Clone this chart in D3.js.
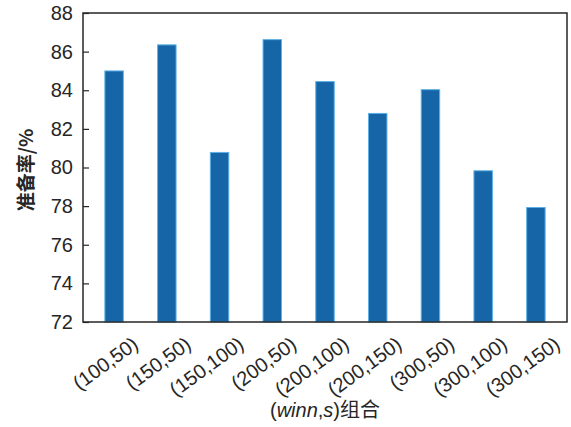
<!DOCTYPE html>
<html><head><meta charset="utf-8">
<script src="https://cdn.jsdelivr.net/npm/d3@7"></script>
<style>body{margin:0;background:#fff}</style>
</head><body>
<svg id="c" width="571" height="427"></svg>
<script>
const categories = ["(100,50)","(150,50)","(150,100)","(200,50)","(200,100)","(200,150)","(300,50)","(300,100)","(300,150)"];
const values = [85.0, 86.35, 80.78, 86.62, 84.45, 82.8, 84.03, 79.83, 77.93];
const yTicks = [72,74,76,78,80,82,84,86,88];

const svg = d3.select("#c");
const L=83, R=567, T=13, B=322;
const x = d3.scalePoint().domain(categories).range([L,R]).padding(0.59);
const y = d3.scaleLinear().domain([72,88]).range([B,T]);
const bw = x.step()*0.35;
const font = "'Liberation Sans', Arial, sans-serif";

svg.append("g").selectAll("rect").data(values).join("rect")
  .attr("x",(d,i)=>x(categories[i])-bw/2)
  .attr("y",d=>y(d))
  .attr("width",bw)
  .attr("height",d=>y(72)-y(d))
  .attr("fill","#1565a7")
  .attr("stroke","#5cb0e6")
  .attr("stroke-width",1);

// y axis
const ya = svg.append("g").attr("transform",`translate(${L},0)`)
  .call(d3.axisLeft(y).tickValues(yTicks).tickSize(-6).tickPadding(10));
ya.select(".domain").remove();
ya.selectAll("line").attr("stroke","#262626").attr("stroke-width",1.2);
ya.selectAll("text").attr("font-family",font).attr("font-size",20).attr("fill","#262626");

// x axis labels
const xa = svg.append("g").attr("transform",`translate(0,${B})`)
  .call(d3.axisBottom(x).tickSize(0).tickPadding(0));
xa.select(".domain").remove();
xa.selectAll("text")
  .attr("font-family",font).attr("font-size",20).attr("fill","#262626")
  .attr("text-anchor","end").attr("dy",0)
  .attr("transform","translate(25,25) rotate(-36)");

// box
svg.append("rect").attr("x",L).attr("y",T).attr("width",R-L).attr("height",B-T)
  .attr("fill","none").attr("stroke","#262626").attr("stroke-width",1.5);

// y label
svg.append("text").attr("transform","translate(33,170) rotate(-90)")
  .attr("text-anchor","middle").attr("font-family","'Noto Sans CJK SC', sans-serif")
  .attr("font-size",19).attr("font-weight","bold").attr("fill","#262626")
  .text("准备率/%");

// x label
const xl = svg.append("text").attr("x",(L+R)/2).attr("y",417).attr("text-anchor","middle")
  .attr("font-family",font).attr("font-size",20).attr("fill","#262626");
xl.append("tspan").text("(");
xl.append("tspan").attr("font-style","italic").text("winn");
xl.append("tspan").text(",");
xl.append("tspan").attr("font-style","italic").text("s");
xl.append("tspan").text(")");
xl.append("tspan").attr("font-family","'Noto Sans CJK SC', sans-serif").text("组合");
</script>
</body></html>
